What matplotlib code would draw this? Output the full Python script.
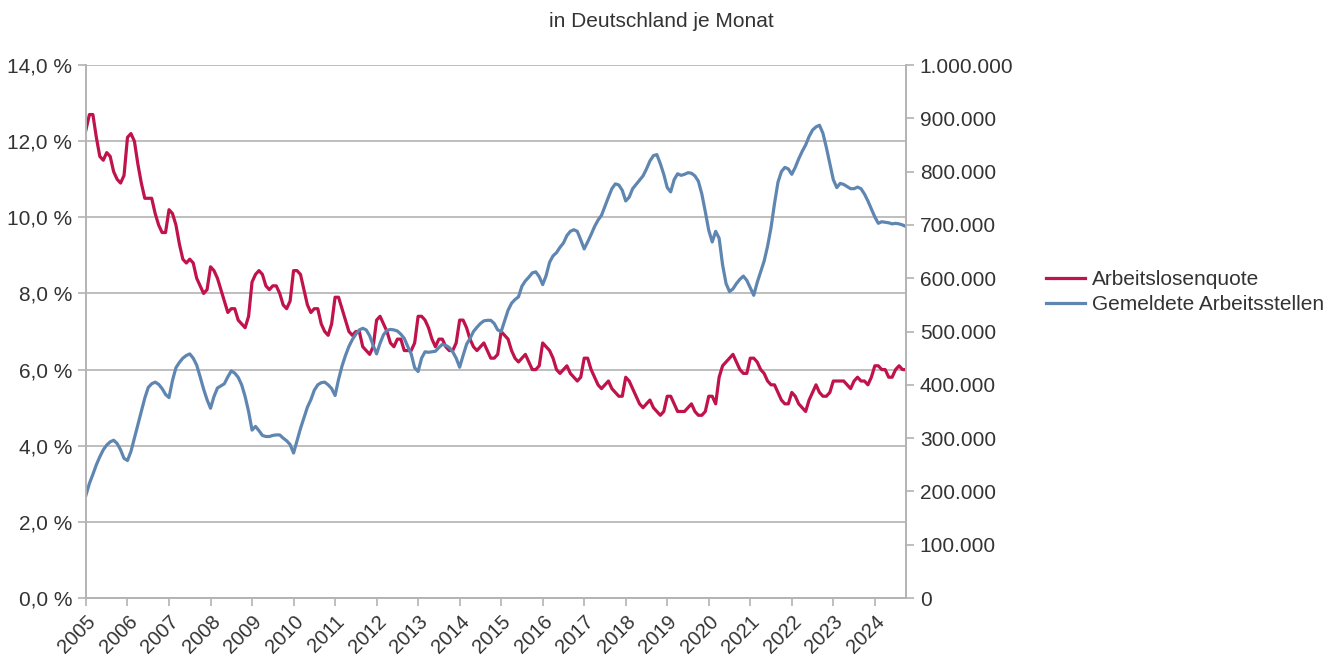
import numpy as np
import matplotlib.pyplot as plt
from matplotlib.ticker import FuncFormatter

plt.rcParams['font.family'] = ['Liberation Sans', 'DejaVu Sans']

# ************ Monatswerte Jan 2005 - Okt 2024 ************ #
years = list(range(2005, 2025))

# Arbeitslosenquote in %
quote = [
    12.3, 12.7, 12.7, 12.1, 11.6, 11.5, 11.7, 11.6, 11.2, 11.0, 10.9, 11.1,   # 2005
    12.1, 12.2, 12.0, 11.4, 10.9, 10.5, 10.5, 10.5, 10.1, 9.8, 9.6, 9.6,      # 2006
    10.2, 10.1, 9.8, 9.3, 8.9, 8.8, 8.9, 8.8, 8.4, 8.2, 8.0, 8.1,             # 2007
    8.7, 8.6, 8.4, 8.1, 7.8, 7.5, 7.6, 7.6, 7.3, 7.2, 7.1, 7.4,               # 2008
    8.3, 8.5, 8.6, 8.5, 8.2, 8.1, 8.2, 8.2, 8.0, 7.7, 7.6, 7.8,               # 2009
    8.6, 8.6, 8.5, 8.1, 7.7, 7.5, 7.6, 7.6, 7.2, 7.0, 6.9, 7.2,               # 2010
    7.9, 7.9, 7.6, 7.3, 7.0, 6.9, 7.0, 7.0, 6.6, 6.5, 6.4, 6.6,               # 2011
    7.3, 7.4, 7.2, 7.0, 6.7, 6.6, 6.8, 6.8, 6.5, 6.5, 6.5, 6.7,               # 2012
    7.4, 7.4, 7.3, 7.1, 6.8, 6.6, 6.8, 6.8, 6.6, 6.5, 6.5, 6.7,               # 2013
    7.3, 7.3, 7.1, 6.8, 6.6, 6.5, 6.6, 6.7, 6.5, 6.3, 6.3, 6.4,               # 2014
    7.0, 6.9, 6.8, 6.5, 6.3, 6.2, 6.3, 6.4, 6.2, 6.0, 6.0, 6.1,               # 2015
    6.7, 6.6, 6.5, 6.3, 6.0, 5.9, 6.0, 6.1, 5.9, 5.8, 5.7, 5.8,               # 2016
    6.3, 6.3, 6.0, 5.8, 5.6, 5.5, 5.6, 5.7, 5.5, 5.4, 5.3, 5.3,               # 2017
    5.8, 5.7, 5.5, 5.3, 5.1, 5.0, 5.1, 5.2, 5.0, 4.9, 4.8, 4.9,               # 2018
    5.3, 5.3, 5.1, 4.9, 4.9, 4.9, 5.0, 5.1, 4.9, 4.8, 4.8, 4.9,               # 2019
    5.3, 5.3, 5.1, 5.8, 6.1, 6.2, 6.3, 6.4, 6.2, 6.0, 5.9, 5.9,               # 2020
    6.3, 6.3, 6.2, 6.0, 5.9, 5.7, 5.6, 5.6, 5.4, 5.2, 5.1, 5.1,               # 2021
    5.4, 5.3, 5.1, 5.0, 4.9, 5.2, 5.4, 5.6, 5.4, 5.3, 5.3, 5.4,               # 2022
    5.7, 5.7, 5.7, 5.7, 5.6, 5.5, 5.7, 5.8, 5.7, 5.7, 5.6, 5.8,               # 2023
    6.1, 6.1, 6.0, 6.0, 5.8, 5.8, 6.0, 6.1, 6.0, 6.0,                         # 2024
]

# Gemeldete Arbeitsstellen in Tausend
stellen = [
    193, 215, 232, 250, 265, 278, 287, 293, 296, 290, 278, 262,   # 2005
    258, 275, 300, 325, 350, 375, 395, 402, 405, 401, 393, 382,   # 2006
    376, 408, 432, 442, 450, 455, 458, 450, 437, 415, 392, 372,   # 2007
    356, 378, 394, 398, 402, 415, 426, 422, 414, 400, 378, 350,   # 2008
    315, 322, 314, 305, 303, 303, 305, 306, 306, 300, 295, 288,   # 2009
    272, 295, 318, 338, 358, 372, 390, 400, 404, 405, 400, 393,   # 2010
    380, 410, 435, 455, 472, 485, 495, 503, 506, 503, 492, 474,   # 2011
    458, 478, 494, 502, 504, 503, 501, 495, 487, 472, 458, 432,   # 2012
    425, 450, 462, 461, 462, 463, 470, 476, 474, 470, 462, 450,   # 2013
    433, 455, 476, 487, 500, 508, 515, 520, 521, 521, 515, 503,   # 2014
    500, 520, 540, 553, 560, 565, 585, 595, 602, 610, 612, 603,   # 2015
    588, 605, 630, 642, 648, 658, 666, 680, 688, 691, 688, 672,   # 2016
    655, 668, 682, 697, 709, 718, 735, 752, 768, 777, 775, 765,   # 2017
    745, 752, 768, 776, 784, 792, 805, 820, 830, 832, 815, 795,   # 2018
    770, 762, 785, 796, 793, 795, 798, 797, 792, 782, 758, 725,   # 2019
    690, 668, 688, 675, 625, 590, 575, 580, 590, 598, 604, 596,   # 2020
    582, 568, 592, 612, 632, 660, 695, 740, 780, 800, 808, 805,   # 2021
    795, 808, 824, 838, 850, 866, 878, 884, 887, 872, 845, 815,   # 2022
    785, 770, 778, 776, 772, 768, 768, 771, 768, 758, 745, 730,   # 2023
    715, 703, 706, 705, 704, 702, 703, 702, 700, 697,             # 2024
]

quote = np.array(quote)
stellen = np.array(stellen) * 1000
months = np.arange(len(quote))

RED = '#c0134b'
BLUE = '#5f86b1'
GRID = '#b3b3b3'
TXT = '#333333'

fig = plt.figure(figsize=(13.39, 6.57), dpi=100)
ax = fig.add_axes([0.0642, 0.0898, 0.6124, 0.8112])
ax2 = ax.twinx()

l1, = ax.plot(months, quote, color=RED, lw=2.3, label='Arbeitslosenquote')
l2, = ax2.plot(months, stellen, color=BLUE, lw=2.3, label='Gemeldete Arbeitsstellen')

ax.set_xlim(0, len(quote) - 1)
ax.set_ylim(0, 14)
ax2.set_ylim(0, 1000000)
ax.set_yticks(np.arange(0, 15, 2))
ax2.set_yticks(np.arange(0, 1000001, 100000))
ax.yaxis.set_major_formatter(FuncFormatter(lambda v, p: f'{v:.1f} %'.replace('.', ',')))
ax2.yaxis.set_major_formatter(FuncFormatter(lambda v, p: f'{int(v):,}'.replace(',', '.')))

ax.set_xticks([12 * i for i in range(len(years))])
ax.set_xticklabels([str(y) for y in years], rotation=45, ha='right', rotation_mode='anchor')

ax.grid(axis='y', color=GRID, lw=1.2)
ax.set_axisbelow(True)
for a in (ax, ax2):
    for s in a.spines.values():
        s.set_color(GRID)
        s.set_linewidth(1.2)
    a.spines['top'].set_visible(False)
    a.tick_params(colors=GRID, labelcolor=TXT, labelsize=15, length=6, width=1.2)
ax.tick_params(axis='x', labelsize=14.5, pad=4)
ax.tick_params(axis='y', pad=4)
ax2.tick_params(axis='y', pad=4)

fig.text(0.494, 0.968, 'in Deutschland je Monat', ha='center', va='center',
         fontsize=15, color=TXT)

fig.legend(handles=[l1, l2], loc='center left', bbox_to_anchor=(0.767, 0.555),
           frameon=False, fontsize=15, handlelength=1.9, handletextpad=0.3,
           labelspacing=0.3, labelcolor=TXT)

plt.savefig('out.png', dpi=100)
